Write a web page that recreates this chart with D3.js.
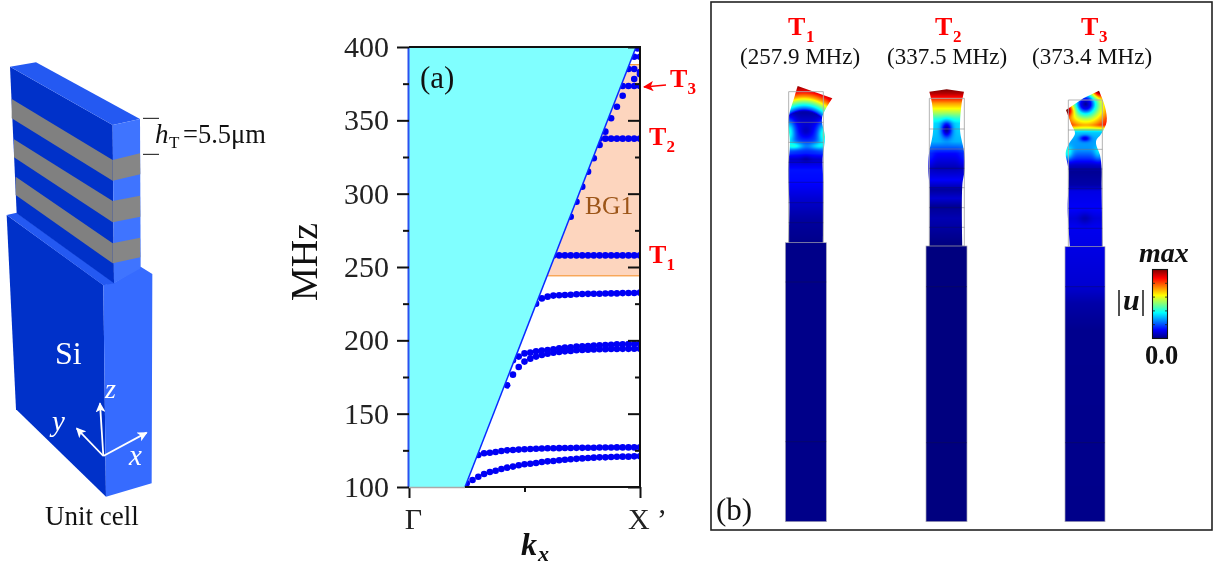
<!DOCTYPE html>
<html><head><meta charset="utf-8">
<script src="https://cdn.jsdelivr.net/npm/d3@7"></script>
<style>
html,body{margin:0;padding:0;background:#fff;overflow:hidden}
#c{position:absolute;left:0;top:0}
svg{position:absolute;left:0;top:0}
text{font-family:"Liberation Serif",serif}
</style></head><body>
<canvas id="c" width="1217" height="567"></canvas>
<svg id="s" width="1217" height="567"></svg>
<script>
// ---------- chart data ----------
const kGrid=[0.25,0.275,0.3,0.325,0.35,0.375,0.4,0.425,0.45,0.475,0.5,0.525,0.55,0.575,0.6,0.625,0.65,0.675,0.7,0.725,0.75,0.775,0.8,0.825,0.85,0.875,0.9,0.925,0.95,0.975,1];
const band1=[102.5,104.8,107,108.9,110.2,111.1,112.3,113.2,113.9,114.8,115.5,115.9,116.4,117,117.5,117.7,118.2,118.6,118.9,119.2,119.5,119.8,120,120.2,120.2,120.5,120.6,120.7,120.7,120.9,121];
const band2=[121.8,123,123.4,123.9,124.5,125,125.2,125.5,125.7,125.9,126.1,126.2,126.4,126.4,126.5,126.6,126.6,126.7,126.7,126.8,126.8,126.9,126.9,126.9,127,127,127,127,127];
const band3=[186.5,188.9,191.1,191.6,192.5,193,193.4,193.9,194.5,195,195.2,195.7,195.9,196.1,196.4,196.6,196.8,197,197.3,197.3,197.5,197.5,197.7];
const band4=[169.3,176.6,181.8,185.5,187.5,188.9,190,190.9,191.6,192,192.5,192.7,193.2,193.4,193.6,193.8,193.9,194,194.1,194.1,194.2,194.2,194.3,194.3];
const band5=[225,228.6,229.8,230.5,230.7,230.9,231.1,231.4,231.6,231.7,231.8,231.8,231.9,232,232,232.2,232.3,232.3,232.5];
const bandT1=[257.9,257.9,257.9,257.9,257.9,257.9,257.9,257.9,257.9,257.9,257.9,257.9,257.9,257.9,257.9,257.9];
const bandT2=[337.5,337.5,337.5,337.5,337.5,337.5,337.5,337.5];
const bandT3=[373.4,373.4,373.4,373.4];
const riseK=[0.7,0.725,0.75,0.775,0.8,0.825,0.85,0.875,0.9,0.925];
const riseF=[284.3,294.5,304.8,315,324.1,333.2,342.3,351.4,359.3,366.8];
const upperK=[0.95,0.975,1,1,0.975,0.975,1,0.99];
const upperF=[385,385,383,381.4,378.2,393.4,393.4,399];
const lightK=[0,0.2424,0.983];
const lightF=[100,100,400];
const gapLow=244, gapHigh=388;
const yMajor=[100,150,200,250,300,350,400];
const yMinor=[125,175,225,275,325,375];
const xMajor=[0,1];
const xMinor=[0.5];
const xLabels=["Γ","X ’"];
const modeNames=["1","2","3"];
const modeFreq=["(257.9 MHz)","(337.5 MHz)","(373.4 MHz)"];

const svg=d3.select("#s");
const x=d3.scaleLinear().domain([0,1]).range([409,640]);
const y=d3.scaleLinear().domain([100,400]).range([487,47]);
const serif='"Liberation Serif",serif';
function txt(px,py,str,size,opts={}){
  const t=svg.append("text").attr("x",px).attr("y",py).attr("font-size",size)
    .attr("fill",opts.fill||"#111").attr("text-anchor",opts.anchor||"start").text(str);
  if(opts.bold)t.attr("font-weight","bold");
  if(opts.italic)t.attr("font-style","italic");
  if(opts.rotate!=null)t.attr("transform",`rotate(${opts.rotate} ${px} ${py})`);
  return t;
}

// ---------- left: 3D unit cell ----------
const zc=([u,v])=>[u/3,50+v/3];
function poly(pts,fill){svg.append("path").attr("d",d3.line()(pts.map(zc))+"Z").attr("fill",fill);}
const dark="#0031c9",side="#366bff",topc="#2459f2";
poly([[20,495],[310,705],[318,1340],[48,1078]],dark);
poly([[310,705],[345,697],[422,650],[457,672],[455,1300],[318,1340]],side);
poly([[20,495],[50,488],[345,700],[310,706]],topc);
poly([[30,50],[338,225],[342,700],[50,490]],dark);
poly([[30,50],[108,37],[420,207],[338,225]],topc);
poly([[338,225],[420,207],[422,655],[342,700]],"#3f74ff");
[[147,205,330,392,310,373],[268,322,453,517,437,500],[380,435,580,640,563,622]].forEach((s,i)=>{
  const lu=[35,42,47][i];
  poly([[lu,s[0]],[338,s[2]],[338,s[3]],[lu,s[1]]],"#808080");
  poly([[338,s[2]],[420,s[4]],[421,s[5]],[338,s[3]]],"#868686");
});
svg.append("defs").html('<marker id="wa" viewBox="0 0 10 10" refX="9" refY="5" markerWidth="5.5" markerHeight="5.5" orient="auto"><path d="M0,0L10,5L0,10L2.5,5Z" fill="#fff"/></marker><marker id="ra" viewBox="0 0 10 10" refX="9" refY="5" markerWidth="6.5" markerHeight="6.5" orient="auto"><path d="M0,0L10,5L0,10L2.5,5Z" fill="#f00"/></marker>');
[[300,1060],[230,1135],[440,1148]].forEach(p=>{
  const a=zc([310,1218]),b=zc(p);
  svg.append("line").attr("x1",a[0]).attr("y1",a[1]).attr("x2",b[0]).attr("y2",b[1])
    .attr("stroke","#fff").attr("stroke-width",1.8).attr("marker-end","url(#wa)");
});
txt(55,364,"Si",32,{fill:"#fff"});
txt(105,398,"z",28,{fill:"#fff",italic:true});
txt(52,431,"y",29,{fill:"#fff",italic:true});
txt(129,465,"x",29,{fill:"#fff",italic:true});
txt(45,525,"Unit cell",27);
[[205],[313]].forEach(([v])=>svg.append("line").attr("x1",143).attr("x2",159).attr("y1",50+v/3).attr("y2",50+v/3).attr("stroke","#111").attr("stroke-width",1));
txt(155,143,"h",27,{italic:true});
txt(169,148,"T",17);
txt(183,143,"=5.5μm",26.5);

// ---------- middle: band diagram ----------
const clip=svg.select("defs").append("clipPath").attr("id","plot");
clip.append("rect").attr("x",x(0)).attr("y",y(400)).attr("width",x(1)-x(0)).attr("height",y(100)-y(400));
svg.append("rect").attr("x",x(0)).attr("width",x(1)-x(0)).attr("y",y(gapHigh)).attr("height",y(gapLow)-y(gapHigh))
  .attr("fill","#fdd5be").attr("stroke","#f79a3e").attr("stroke-width",1.2);
const series=[band1,band2,band3,band4,band5,bandT1,bandT2,bandT3];
const pts=[];
series.forEach(s=>s.forEach((f,i)=>pts.push([kGrid[kGrid.length-s.length+i],f])));
riseK.forEach((k,i)=>pts.push([k,riseF[i]]));
upperK.forEach((k,i)=>pts.push([k,upperF[i]]));
svg.append("g").attr("clip-path","url(#plot)").selectAll("circle").data(pts).join("circle")
  .attr("cx",d=>x(d[0])).attr("cy",d=>y(d[1])).attr("r",3.3).attr("fill","#0000f5");
// light cone
const cone=[[0,100],[lightK[1],lightF[1]],[lightK[2],lightF[2]],[0,400]];
svg.append("path").attr("d",d3.line().x(d=>x(d[0])).y(d=>y(d[1]))(cone)+"Z").attr("fill","#80ffff");
svg.append("line").attr("x1",x(lightK[1])).attr("y1",y(lightF[1])).attr("x2",x(lightK[2])).attr("y2",y(lightF[2]))
  .attr("stroke","#0a2bff").attr("stroke-width",1.5);
svg.append("line").attr("x1",x(0)-.5).attr("x2",x(0)-.5).attr("y1",y(100)).attr("y2",y(400)).attr("stroke","#2b50f0").attr("stroke-width",2);
// axes
function ticks(axis){
  const g=svg.append("g").call(axis);
  g.select(".domain").remove();
  g.selectAll("line").attr("stroke","#111").attr("stroke-width",2);
  g.selectAll("text").attr("font-family",serif).attr("font-size",30).attr("fill","#222");
  return g;
}
ticks(d3.axisLeft(y).tickValues(yMajor).tickSize(12).tickPadding(8)).attr("transform",`translate(${x(0)},0)`);
ticks(d3.axisLeft(y).tickValues(yMinor).tickSize(6).tickFormat("")).attr("transform",`translate(${x(0)},0)`);
ticks(d3.axisRight(y).tickValues(yMajor).tickSize(-12).tickFormat("")).attr("transform",`translate(${x(1)},0)`);
ticks(d3.axisRight(y).tickValues(yMinor).tickSize(-5).tickFormat("")).attr("transform",`translate(${x(1)},0)`);
ticks(d3.axisBottom(x).tickValues(xMajor).tickSize(11).tickPadding(10).tickFormat((d,i)=>xLabels[i]))
  .attr("transform",`translate(0,${y(100)})`)
  .selectAll("text").attr("dx",(d,i)=>[4,7][i]);
ticks(d3.axisBottom(x).tickValues(xMinor).tickSize(5).tickFormat("")).attr("transform",`translate(0,${y(100)})`);
const spine=(a,b,c,d,col,w)=>svg.append("line").attr("x1",a).attr("x2",c).attr("y1",b).attr("y2",d).attr("stroke",col).attr("stroke-width",w);
spine(x(0),y(400),x(1)+1,y(400),"#111",2);
spine(x(1),y(400),x(1),y(100)+1,"#111",2);
spine(x(lightK[1]),y(100),x(1),y(100),"#111",2);
spine(x(0),y(100)+.5,x(lightK[1]),y(100)+.5,"#aaa",1.5);
txt(420,88,"(a)",31);
txt(585,214,"BG1",25.5,{fill:"#9c5518"});
txt(317,262,"MHz",38,{anchor:"middle",rotate:-90});
txt(521,555,"k",32,{bold:true,italic:true});
txt(538,561,"x",22,{italic:true,bold:true});
[[649,263,"1"],[649,145,"2"],[670,87,"3"]].forEach(([a,b,c])=>{
  txt(a,b,"T",26,{fill:"#f00",bold:true});
  txt(a+17.5,b+7,c,17,{fill:"#f00",bold:true});
});
svg.append("line").attr("x1",666).attr("y1",85).attr("x2",644).attr("y2",87).attr("stroke","#f00").attr("stroke-width",1.6).attr("marker-end","url(#ra)");

// ---------- right: mode shapes ----------
svg.append("rect").attr("x",711).attr("y",2).attr("width",501).attr("height",528).attr("fill","none").attr("stroke","#222").attr("stroke-width",1.6);
[[788,"1",740],[935,"2",887],[1081,"3",1032]].forEach(([a,n,b],i)=>{
  txt(a,35,"T",26,{fill:"#f00",bold:true});
  txt(a+18,42,modeNames[i],17,{fill:"#f00",bold:true});
  txt(b,64,modeFreq[i],23);
});
txt(716,520,"(b)",31);

const jet=d3.scaleLinear().domain([0,.125,.375,.625,.875,1])
  .range(["#00007f","#0000ff","#00ffff","#ffff00","#ff0000","#7f0000"]).clamp(true);
const prof=a=>d3.scaleLinear().domain(a.map(d=>d[0])).range(a.map(d=>d[1])).clamp(true);
const gs=(u,v,cu,cv,ru,rv,a)=>a*Math.exp(-(((u-cu)/ru)**2)-(((v-cv)/rv)**2));

const p1=prof([[130,.04],[165,.1],[215,.17],[250,.16],[268,.07],[300,.14],[335,.13],[400,.07],[455,.03],[520,.01],[1400,.01]]);
const a1=prof([[60,0],[72,.06],[78,.2],[90,.38],[103,.55],[115,.72],[130,.88],[150,1]]);
function f1(u,v){
  const r=Math.hypot(u-222,v-195);
  const b=p1(v)+gs(u,v,175,185,20,38,.28)+gs(u,v,283,190,20,36,.28)+gs(u,v,195,228,28,11,.2)+gs(u,v,262,228,28,11,.15)-gs(u,v,228,185,18,18,.06)-gs(u,v,228,265,15,12,.03);
  return v<175?Math.max(b,a1(r)):b;
}
const p2=prof([[58,1],[70,.95],[85,.85],[100,.72],[115,.63],[130,.53],[145,.42],[160,.34],[178,.33],[215,.3],[250,.13],[295,.05],[330,.12],[360,.03],[385,.08],[410,.02],[445,.05],[528,0],[1400,0]]);
function f2(u,v){
  return p2(v)-gs(u,v,650,178,16,24,.3)+gs(u,v,600,265,14,30,.04)+gs(u,v,700,265,14,30,.04);
}
const a3=prof([[0,.02],[15,.12],[30,.38],[45,.55],[60,.68],[75,.8],[90,.88]]);
const p3=prof([[175,.38],[190,.32],[215,.28],[240,.27],[265,.17],[285,.07],[305,.02],[345,.04],[365,.1],[420,.12],[445,.09],[470,.11],[530,.1],[650,.08],[700,.04],[780,.015],[1400,.01]]);
function f3(u,v){
  const r=Math.hypot(u-1067,v-102);
  const top=a3(r)+gs(u,v,1008,120,22,18,.4)+gs(u,v,1107,62,22,20,.4);
  const b=p3(v)-gs(u,v,1065,205,16,9,.2)+gs(u,v,1012,250,16,20,.16)+gs(u,v,1105,250,14,22,.1)-gs(u,v,1065,445,18,18,.04);
  const t=Math.min(1,Math.max(0,(v-165)/20));
  return top*(1-t)+b*t;
}
const modes=[
 {f:f1,top:[[203,48],[307,85]],
  right:[[307,85],[276,145],[285,200],[278,265],[280,340],[279,518]],
  left:[[203,48],[195,75],[175,150],[180,220],[174,300],[178,400],[176,518]],
  base:[166,518,289],rect:[176,280,65],lines:[157,217,277,337,398,458,518],baseLines:[636,1115]},
 {f:f2,top:[[598,65],[650,58],[702,65]],
  right:[[702,65],[695,100],[690,160],[691,190],[703,250],[704,300],[697,345],[697,528]],
  left:[[598,65],[606,100],[610,160],[608,195],[597,250],[595,300],[598,345],[598,528]],
  base:[588,528,711],rect:[598,703,85],lines:[177,237,295,353,413,472,528],baseLines:[650,1118]},
 {f:f3,top:[[1008,120],[1060,85],[1107,62]],
  right:[[1107,62],[1125,110],[1130,155],[1115,190],[1098,215],[1110,255],[1115,295],[1115,350],[1118,530]],
  left:[[1008,120],[1025,165],[1035,190],[1015,225],[1007,250],[1015,295],[1015,350],[1013,420],[1020,530]],
  base:[1005,530,1125],rect:[1015,1117,90],lines:[180,238,297,356,415,475,530],baseLines:[650,1118]}
];
const bottomV=1355;
const toX=u=>730+u/3,toY=v=>70+v/3;
const ctx=document.getElementById("c").getContext("2d");
const lc=d3.line().x(d=>toX(d[0])).y(d=>toY(d[1])).curve(d3.curveCatmullRom.alpha(.5));
const ll=d3.line().x(d=>toX(d[0])).y(d=>toY(d[1]));
modes.forEach(m=>{
  const d=ll(m.top)+"L"+lc(m.right).slice(1)+"L"+lc(m.left.slice().reverse()).slice(1)+"Z"+
    ll([[m.base[0],m.base[1]],[m.base[2],m.base[1]],[m.base[2],bottomV],[m.base[0],bottomV]])+"Z";
  ctx.save();
  ctx.clip(new Path2D(d),"nonzero");
  const x0=Math.floor(toX(Math.min(m.base[0],...m.left.map(p=>p[0])))),x1=Math.ceil(toX(Math.max(m.base[2],...m.right.map(p=>p[0]))));
  const y0=Math.floor(toY(Math.min(...m.top.map(p=>p[1]))));
  for(let py=y0;py<522;py++)for(let px=x0;px<x1;px++){
    ctx.fillStyle=jet(m.f((px+.5-730)*3,(py+.5-70)*3));
    ctx.fillRect(px,py,1,1);
  }
  ctx.restore();
  const [ra,rb,rt]=m.rect;
  const o=svg.append("g").attr("fill","none");
  o.append("path").attr("d",ll([[ra,m.lines[m.lines.length-1]],[ra,rt],[rb,rt],[rb,m.lines[m.lines.length-1]]]))
    .attr("stroke","#aaaaaa").attr("stroke-width",.9);
  m.lines.forEach((v,i)=>o.append("line").attr("x1",toX(ra)).attr("x2",toX(rb)).attr("y1",toY(v)).attr("y2",toY(v))
    .attr("stroke",i<2?"#7a7a7a":"#101040").attr("stroke-width",.7).attr("opacity",i<2?.8:.45));
  const bx0=toX(m.base[0]),bx1=toX(m.base[2]);
  o.append("rect").attr("x",bx0).attr("y",toY(m.base[1])).attr("width",bx1-bx0).attr("height",toY(bottomV)-toY(m.base[1])).attr("stroke","#a8a8b8").attr("stroke-width",.7);
  m.baseLines.forEach(v=>o.append("line").attr("x1",bx0).attr("x2",bx1).attr("y1",toY(v)).attr("y2",toY(v)).attr("stroke","#101040").attr("stroke-width",.7).attr("opacity",.5));
});
// colour bar
const grad=svg.select("defs").append("linearGradient").attr("id","jet").attr("x1",0).attr("x2",0).attr("y1",1).attr("y2",0);
jet.domain().forEach(d=>grad.append("stop").attr("offset",d).attr("stop-color",jet(d)));
svg.append("rect").attr("x",1152.5).attr("y",269.5).attr("width",15).attr("height",69).attr("fill","url(#jet)").attr("stroke","#111").attr("stroke-width",1.1);
[.2,.4,.6,.8].forEach(t=>{const yy=338.5-69*t;
  [[1152.5,1155],[1165,1167.5]].forEach(([a,b])=>svg.append("line").attr("x1",a).attr("x2",b).attr("y1",yy).attr("y2",yy).attr("stroke","#222").attr("stroke-width",.8));});
txt(1139,262,"max",28,{bold:true,italic:true});
txt(1116,310,"|",30);
txt(1123,310,"u",30,{bold:true,italic:true});
txt(1140,310,"|",30);
txt(1145,364,"0.0",26.5,{bold:true});
</script></body></html>
